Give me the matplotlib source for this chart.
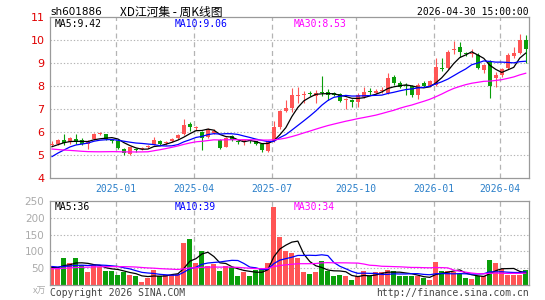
#!/usr/bin/env python3
"""Weekly K-line chart for sh601886 (price candles + volume, MA5/10/30)."""

from __future__ import annotations

import matplotlib

matplotlib.use("Agg")
import matplotlib.pyplot as plt
import numpy as np
import pandas as pd

# weekly OHLC, oldest first (2024-10 .. 2026-04-30)
open_ = [5.42, 5.50, 5.65, 5.55, 5.70, 5.65, 5.48, 5.70, 5.93, 5.90,
         5.66, 5.60, 5.25, 5.06, 5.27, 5.28, 5.34, 5.45, 5.62, 5.54,
         5.60, 5.75, 5.90, 6.35, 6.19, 6.00, 5.80, 5.94, 5.65, 5.35,
         5.84, 5.62, 5.60, 5.61, 5.60, 5.47, 5.18, 5.60, 6.20, 6.90,
         7.05, 7.56, 7.62, 7.69, 7.57, 7.73, 7.75, 7.68, 7.65, 7.40,
         7.38, 7.31, 7.53, 7.76, 7.68, 7.79, 7.70, 8.37, 8.15, 8.01,
         8.00, 7.60, 8.12, 8.00, 8.04, 8.76, 8.80, 9.58, 9.70, 9.42,
         9.38, 9.35, 8.70, 9.10, 8.35, 8.50, 8.80, 9.30, 9.45, 10.00]
close = [5.50, 5.65, 5.52, 5.75, 5.56, 5.48, 5.62, 5.90, 5.96, 5.70,
         5.60, 5.32, 5.10, 5.33, 5.20, 5.30, 5.36, 5.65, 5.48, 5.56,
         5.70, 5.85, 6.30, 6.22, 6.21, 5.75, 6.15, 6.06, 5.30, 5.74,
         5.65, 5.56, 5.62, 5.59, 5.50, 5.20, 5.60, 6.20, 6.90, 7.05,
         7.60, 7.58, 7.64, 7.67, 7.70, 7.71, 7.63, 7.60, 7.35, 7.44,
         7.31, 7.60, 7.75, 7.74, 7.80, 7.81, 8.35, 8.12, 7.97, 7.99,
         7.60, 8.04, 8.00, 8.20, 8.82, 8.74, 9.50, 9.62, 9.50, 9.40,
         9.42, 8.80, 8.90, 8.00, 8.50, 8.75, 9.35, 9.45, 10.00, 9.60]
high = [5.62, 5.70, 5.91, 5.80, 5.91, 5.75, 5.66, 5.95, 6.02, 5.93,
        5.70, 5.65, 5.30, 5.36, 5.30, 5.36, 5.42, 5.80, 5.66, 5.62,
        5.72, 5.90, 6.55, 6.45, 6.28, 6.05, 6.18, 6.12, 5.68, 5.78,
        5.86, 5.66, 5.66, 5.64, 5.62, 5.50, 5.65, 6.50, 6.95, 7.40,
        7.90, 7.95, 7.80, 7.80, 7.82, 8.44, 7.85, 7.72, 7.68, 7.50,
        7.45, 7.68, 7.95, 7.90, 7.85, 7.95, 8.55, 8.50, 8.20, 8.12,
        8.05, 8.12, 8.20, 8.28, 9.22, 9.22, 9.55, 9.95, 9.90, 9.50,
        9.60, 9.45, 8.95, 9.15, 8.60, 8.80, 9.45, 9.70, 10.25, 10.20]
low = [5.38, 5.45, 5.45, 5.50, 5.50, 5.45, 5.26, 5.66, 5.85, 5.65,
       5.52, 5.28, 5.00, 5.00, 5.15, 5.22, 5.30, 5.42, 5.42, 5.45,
       5.55, 5.70, 5.85, 6.05, 6.10, 5.20, 5.75, 5.90, 5.28, 5.33,
       5.60, 5.48, 5.45, 5.54, 5.45, 5.15, 5.12, 5.55, 6.15, 6.85,
       6.85, 7.25, 7.25, 7.55, 7.25, 7.55, 7.40, 7.55, 7.30, 7.00,
       7.10, 7.10, 7.50, 7.60, 7.65, 7.68, 7.65, 8.05, 7.90, 7.60,
       7.53, 7.45, 7.95, 7.95, 8.00, 8.65, 8.75, 9.40, 9.25, 9.30,
       9.25, 8.75, 8.55, 7.50, 7.95, 8.40, 8.75, 9.20, 9.40, 9.00]
# weekly volume (万手)
volume = [58, 48, 79, 64, 79, 60, 40, 60, 54, 43,
          43, 31, 38, 31, 26, 10, 21, 46, 28, 30,
          30, 33, 126, 136, 66, 101, 58, 63, 42, 56,
          53, 28, 38, 28, 44, 51, 66, 231, 144, 101,
          96, 81, 38, 33, 38, 71, 43, 26, 31, 26,
          16, 26, 43, 26, 38, 38, 46, 43, 26, 26,
          26, 26, 20, 16, 68, 43, 43, 38, 33, 20,
          18, 28, 28, 73, 65, 48, 30, 30, 30, 46]

# weeks before the visible window, only used to seed the moving averages
hist_close = [6.30, 6.20, 6.20, 6.10, 6.10, 6.05, 6.05, 6.03, 5.60, 5.50,
              5.40, 5.40, 5.30, 5.30, 5.20, 5.20, 4.30, 4.15, 4.05, 4.05,
              4.10, 4.20, 4.42, 4.70, 5.08, 5.20, 5.10, 5.50, 5.50]
hist_volume = [45, 42, 38, 40, 36, 35, 33, 38, 40, 36,
               34, 39, 44, 48, 52, 58, 70, 66, 57, 55,
               62, 60, 55, 58, 55, 50, 48, 52, 52]

tick_week = [11, 24, 37, 51, 64, 75]
tick_labels = ["2025-01", "2025-04", "2025-07", "2025-10", "2026-01", "2026-04"]

price_ma_text = ["MA5:9.42", "MA10:9.06", "MA30:8.53"]
volume_ma_text = ["MA5:36", "MA10:39", "MA30:34"]

W, H = 545, 300
RED = "#ff5555"
GREEN = "#0a9e0a"
MA_COLORS = ["black", "#0000ff", "#ff00ff"]
FRAME = "#9a9a9a"
GRID = "#b4b4b4"
MONO = "DejaVu Sans Mono"


def px_axes(fig, left, top, right, bottom):
    return fig.add_axes([left / W, 1 - bottom / H, (right - left) / W, (bottom - top) / H])


def px_text(fig, x, y, s, **kw):
    fig.text(x / W, 1 - y / H, s, va="center", **kw)


def moving_averages(hist, values):
    s = pd.Series(list(hist) + list(values), dtype=float)
    n = len(values)
    return [s.rolling(w).mean().to_numpy()[-n:] for w in (5, 10, 30)]


def style_frame(ax):
    for sp in ax.spines.values():
        sp.set_color(FRAME)
        sp.set_linewidth(0.9)
    ax.tick_params(length=0)


def main() -> int:
    o = np.array(open_)
    c = np.array(close)
    hi = np.array(high)
    lo = np.array(low)
    vol = np.array(volume)
    x = np.arange(len(c))
    up = c >= o
    colors = np.where(up, RED, GREEN)
    xlim = (-0.33, len(c) - 0.45)
    vlines_x = np.array(tick_week) - 0.3

    fig = plt.figure(figsize=(W / 100, H / 100), dpi=100)

    # ---- price panel
    ax = px_axes(fig, 50, 17, 529, 178)
    style_frame(ax)
    ax.set_xlim(*xlim)
    ax.set_ylim(4, 11)
    for y in range(5, 11):
        ax.axhline(y, color=GRID, lw=0.8, ls=(0, (1.2, 1.8)), zorder=0)
    for xv in vlines_x:
        ax.axvline(xv, color=GRID, lw=0.9, ls=(0, (4, 3)), zorder=0)

    ax.vlines(x, lo, hi, colors=colors, lw=0.8, zorder=2)
    body_lo = np.minimum(o, c)
    body_h = np.maximum(np.abs(c - o), 0.045)
    ax.bar(x, body_h, bottom=body_lo, width=0.72, color=colors, lw=0, zorder=3)

    for ma, col in zip(moving_averages(hist_close, c), MA_COLORS):
        ax.plot(x, ma, color=col, lw=0.9, zorder=4)

    ax.set_yticks(range(4, 12))
    ax.set_yticklabels([str(v) for v in range(4, 12)], color="#e00000", fontsize=8)
    ax.tick_params(axis="y", pad=4)
    ax.set_xticks(vlines_x)
    ax.set_xticklabels(tick_labels, color="#2a7fc9", fontsize=7, family=MONO)
    ax.tick_params(axis="x", pad=4)

    # ---- volume panel
    axv = px_axes(fig, 50, 201, 529, 285)
    style_frame(axv)
    axv.set_xlim(*xlim)
    axv.set_ylim(0, 250)
    for y in (50, 100, 150, 200):
        axv.axhline(y, color=GRID, lw=0.8, ls=(0, (1.2, 1.8)), zorder=0)
    for xv in vlines_x:
        axv.axvline(xv, color=GRID, lw=0.9, ls=(0, (4, 3)), zorder=0)
    axv.bar(x, vol, width=0.84, color=colors, lw=0, zorder=2)
    for ma, col in zip(moving_averages(hist_volume, vol), MA_COLORS):
        axv.plot(x, ma, color=col, lw=0.9, zorder=4)
    axv.set_xticks([])
    axv.set_yticks([50, 100, 150, 200, 250])
    axv.set_yticklabels(["50", "100", "150", "200", "250"], color="#aaaaaa", fontsize=7.5)
    axv.tick_params(axis="y", pad=4)

    # ---- texts
    px_text(fig, 50, 12, "sh601886", fontsize=7.5, color="black")
    px_text(fig, 120, 12, "XD江河集 - 周K线图", fontsize=8.5, color="black",
            family=["Noto Sans CJK SC", "DejaVu Sans"])
    px_text(fig, 529, 12, "2026-04-30 15:00:00", fontsize=7, family=MONO, ha="right")

    for s, col, xp in zip(price_ma_text, MA_COLORS, (55, 175, 294)):
        px_text(fig, xp, 24, s, fontsize=7, family=MONO, color=col)
    for s, col, xp in zip(volume_ma_text, MA_COLORS, (55, 175, 294)):
        px_text(fig, xp, 207, s, fontsize=7, family=MONO, color=col)

    px_text(fig, 46, 291, "x万", fontsize=6.5, color="#aaaaaa", ha="right",
            family=["Noto Sans CJK SC", "DejaVu Sans"])
    px_text(fig, 50, 293, "Copyright 2026 SINA.COM", fontsize=7, family=MONO, color="#444444")
    px_text(fig, 529, 293, "http://finance.sina.com.cn", fontsize=7, family=MONO,
            color="#444444", ha="right")

    fig.savefig("out.png", dpi=100)
    print("wrote out.png")
    return 0


if __name__ == "__main__":
    raise SystemExit(main())
